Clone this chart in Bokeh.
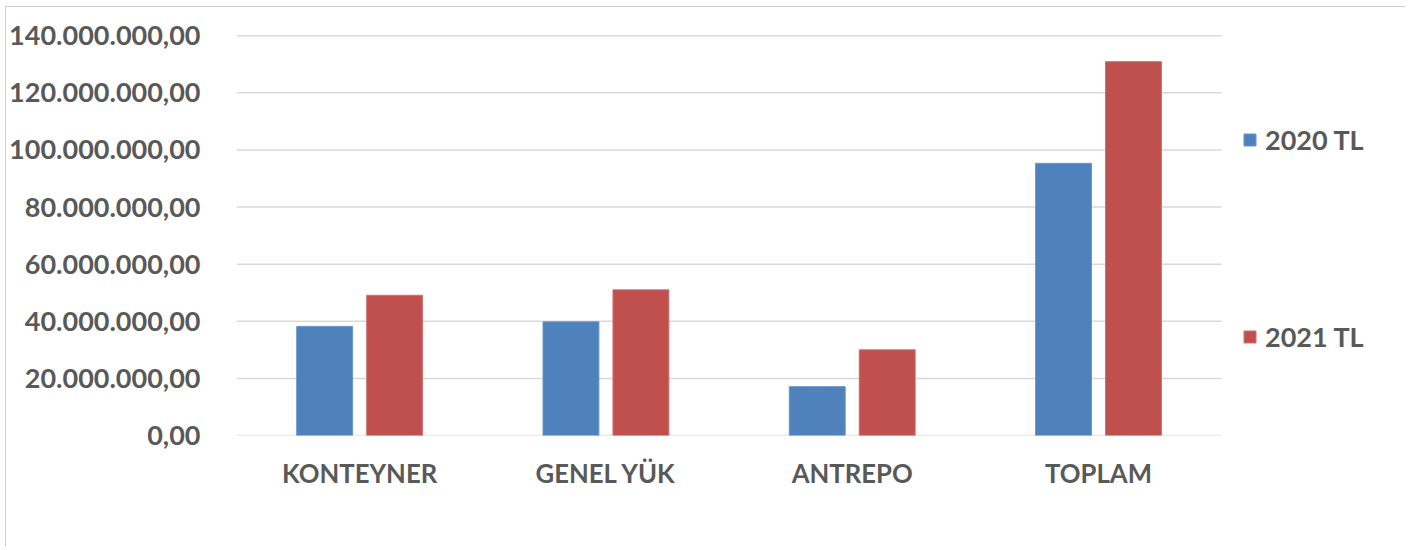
from bokeh.plotting import figure
from bokeh.models import ColumnDataSource, Range1d, Legend, LegendItem, CustomJSTickFormatter, FixedTicker
from bokeh.transform import dodge
from bokeh.embed import file_html
from bokeh.resources import INLINE

categories = ["KONTEYNER", "GENEL YÜK", "ANTREPO", "TOPLAM"]
values_2020 = [38.2e6, 39.8e6, 17.1e6, 95.3e6]
values_2021 = [49.1e6, 51.0e6, 30.0e6, 130.9e6]
series_names = ["2020 TL", "2021 TL"]
y_ticks = [0, 20e6, 40e6, 60e6, 80e6, 100e6, 120e6, 140e6]

colors = ["#4F81BD", "#C0504D"]
text_color = "#595959"
grid_color = "#d9d9d9"
font = "Lato"

n = len(categories)
centers = [i + 0.5 for i in range(n)]
src = ColumnDataSource(dict(xc=centers, v2020=values_2020, v2021=values_2021))

W, H = 1400, 540
border_left = 229
plot_px = 986          # width taken by the category area
frame_px = W - border_left
p = figure(width=W, height=H, x_range=Range1d(0, n * frame_px / plot_px),
           y_range=Range1d(0, 140.4e6), output_backend="svg", toolbar_location=None,
           min_border_left=border_left, min_border_right=0, min_border_top=27, min_border_bottom=112)
p.outline_line_color = None
p.background_fill_color = "white"
p.border_fill_color = "white"
p.styles = {"border-top": "1px solid #d0d0d0", "border-left": "1px solid #d0d0d0",
            "margin-left": "5px", "margin-top": "6px"}

# horizontal gridlines only across the category area
p.xgrid.visible = False
p.ygrid.visible = False
p.segment(x0=0, x1=n, y0=y_ticks, y1=y_ticks, line_color=grid_color, line_width=1.5)

r1 = p.vbar(x=dodge("xc", -0.142), top="v2020", width=0.227, source=src,
            fill_color=colors[0], line_color="#6a95cc", line_width=1)
r2 = p.vbar(x=dodge("xc", 0.142), top="v2021", width=0.227, source=src,
            fill_color=colors[1], line_color="#d07070", line_width=1)

p.yaxis.ticker = FixedTicker(ticks=y_ticks)
p.yaxis.formatter = CustomJSTickFormatter(code="""
    const s = Math.round(tick).toString().replace(/\\B(?=(\\d{3})+(?!\\d))/g, '.');
    return s + ',00';
""")
p.xaxis.ticker = FixedTicker(ticks=centers)
p.xaxis.major_label_overrides = {c: lab for c, lab in zip(centers, categories)}
for ax in (p.xaxis[0], p.yaxis[0]):
    ax.axis_line_color = None
    ax.major_tick_line_color = None
    ax.minor_tick_line_color = None
    ax.major_label_text_font = font
    ax.major_label_text_font_style = "bold"
    ax.major_label_text_color = text_color
p.yaxis.major_label_text_font_size = "27px"
p.xaxis.major_label_text_font_size = "25.7px"
p.yaxis.major_label_standoff = 30
p.xaxis.major_label_standoff = 16

legend = Legend(items=[LegendItem(label=series_names[0], renderers=[r1]),
                       LegendItem(label=series_names[1], renderers=[r2])],
                location=(1006, 0), orientation="vertical",
                padding=0, margin=0, spacing=0, glyph_width=15, glyph_height=15,
                label_height=197, label_standoff=8,
                label_text_font=font, label_text_font_style="bold",
                label_text_font_size="27px", label_text_color=text_color,
                border_line_color=None, background_fill_alpha=0)
p.add_layout(legend, "center")

open("out.html", "w").write(file_html(p, INLINE))
